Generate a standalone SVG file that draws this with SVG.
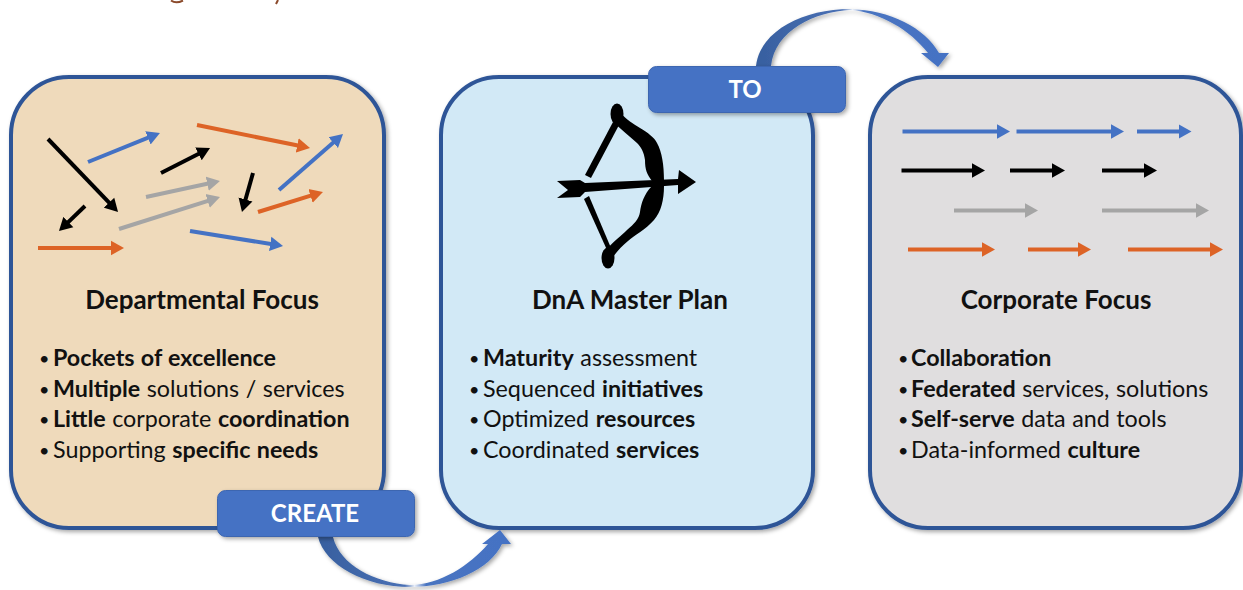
<svg xmlns="http://www.w3.org/2000/svg" width="1243" height="590" viewBox="0 0 1243 590">
<style>
text{font-family:Lato,"Liberation Sans",sans-serif;fill:#111}
.t{font-size:26px;font-weight:700;text-anchor:middle}
.b{font-size:23.300px;word-spacing:.6px}
.d{font-size:18px}
.b tspan.s{font-weight:700}
.l{font-size:24px;font-weight:700;fill:#fff;text-anchor:middle}
.card{stroke:#2F5597;stroke-width:4}
.a{stroke-width:4;fill:none}
.k{stroke:#000;marker-end:url(#hk)}.u{stroke:#4472C4;marker-end:url(#hu)}.o{stroke:#DD6326;marker-end:url(#ho)}.g{stroke:#A5A5A5;marker-end:url(#hg)}
</style>
<defs>
<filter id="sh" x="-10%" y="-10%" width="125%" height="125%"><feDropShadow dx="2" dy="2" stdDeviation="2" flood-color="#000" flood-opacity=".35"/></filter>
<marker id="hk" markerUnits="userSpaceOnUse" markerWidth="15" markerHeight="16" refX="7" refY="8" orient="auto"><path d="M0 .8L13 8L0 15.200Z" fill="#000"/></marker>
<marker id="hu" markerUnits="userSpaceOnUse" markerWidth="15" markerHeight="16" refX="7" refY="8" orient="auto"><path d="M0 .8L13 8L0 15.200Z" fill="#4472C4"/></marker>
<marker id="ho" markerUnits="userSpaceOnUse" markerWidth="15" markerHeight="16" refX="7" refY="8" orient="auto"><path d="M0 .8L13 8L0 15.200Z" fill="#DD6326"/></marker>
<marker id="hg" markerUnits="userSpaceOnUse" markerWidth="15" markerHeight="16" refX="7" refY="8" orient="auto"><path d="M0 .8L13 8L0 15.200Z" fill="#A5A5A5"/></marker>
<linearGradient id="gt" x1="0" x2="1" y1="0" y2="0"><stop offset="0" stop-color="#375F9F"/><stop offset=".45" stop-color="#4A70B4"/><stop offset=".5" stop-color="#E8EEF8"/><stop offset=".56" stop-color="#4A74C0"/><stop offset="1" stop-color="#4472C4"/></linearGradient>
</defs>

<path id="title-remnant" d="M171 .5Q176 4 183 .5M276 4L278 0" fill="none" stroke="#8B4A2B" stroke-width="2"/>

<g id="card-departmental">
<rect class="card" x="11" y="77" width="373" height="451" rx="58" fill="#EFDABB" filter="url(#sh)"/>
<g id="arrows-departmental">
<path class="a k" d="M48 139L113.900 207.700"/>
<path class="a u" d="M88 162L154.400 135.200"/>
<path class="a o" d="M197 125L304.100 146.800"/>
<path class="a k" d="M161 173L204.700 150.700"/>
<path class="a u" d="M279 190L338.500 138"/>
<path class="a g" d="M146 197L214.100 182.300"/>
<path class="a g" d="M119 229L214.300 198.800"/>
<path class="a k" d="M253 173L243.600 206.200"/>
<path class="a o" d="M258 212L317.200 193.700"/>
<path class="a k" d="M85 206L63.300 226.900"/>
<path class="a o" d="M38 248L118 248"/>
<path class="a u" d="M190 231L277.100 245"/>
</g>
<text class="t" x="202" y="309">Departmental Focus</text>
<text class="d" x="39" y="365">•</text><text class="b" x="53" y="366"><tspan class="s">Pockets of excellence</tspan></text>
<text class="d" x="39" y="396">•</text><text class="b" x="53" y="397"><tspan class="s">Multiple</tspan> solutions / services</text>
<text class="d" x="39" y="426">•</text><text class="b" x="53" y="427"><tspan class="s">Little</tspan> corporate <tspan class="s">coordination</tspan></text>
<text class="d" x="39" y="457">•</text><text class="b" x="53" y="458">Supporting <tspan class="s">specific needs</tspan></text>
</g>

<g id="card-master-plan">
<rect class="card" x="441" y="77" width="372" height="451" rx="58" fill="#D2E9F6" filter="url(#sh)"/>
<g id="bow-icon" fill="#000">
<ellipse cx="617" cy="114" rx="6.500" ry="10.500"/>
<ellipse cx="608" cy="258" rx="6.500" ry="10.500"/>
<path d="M620 112C626 120 634 124 640 128C648 133 654 137 657 143C662 152 664 165 664 181L652 181C647 174 645 170 645 160C644 152 641 147 637 143C630 137 622 130 613 122Z"/>
<path d="M652 186L664 186C664 200 661 212 654 220C645 230 635 235 628 241C622 246 616 252 611 260L606 250C614 241 622 235 627 230C634 224 639 219 640 212C641 204 644 194 652 186Z"/>
<path d="M613 122L619 125L591 178L585 175Z"/>
<path d="M589 196L584 199L607 250L611 248Z"/>
<path d="M557 181L580 180L585 183L678 179L679 170L696 182L678 194L678 185L585 192L580 197L557 198L568 190Z"/>
</g>
<text class="t" x="630" y="309">DnA Master Plan</text>
<text class="d" x="469" y="365">•</text><text class="b" x="483" y="366"><tspan class="s">Maturity</tspan> assessment</text>
<text class="d" x="469" y="396">•</text><text class="b" x="483" y="397">Sequenced <tspan class="s">initiatives</tspan></text>
<text class="d" x="469" y="426">•</text><text class="b" x="483" y="427">Optimized <tspan class="s">resources</tspan></text>
<text class="d" x="469" y="457">•</text><text class="b" x="483" y="458">Coordinated <tspan class="s">services</tspan></text>
</g>

<g id="card-corporate">
<rect class="card" x="870" y="77" width="371" height="451" rx="58" fill="#E0DEDF" filter="url(#sh)"/>
<g id="arrows-corporate">
<path class="a u" d="M902.500 131.500H1004"/><path class="a u" d="M1016.500 131.500H1118"/><path class="a u" d="M1137 131.500H1185.500"/>
<path class="a k" d="M901.500 170.500H979"/><path class="a k" d="M1010 170.500H1059"/><path class="a k" d="M1102 170.500H1151"/>
<path class="a g" d="M954 210.500H1032"/><path class="a g" d="M1102 210.500H1203"/>
<path class="a o" d="M908 249.500H989"/><path class="a o" d="M1028 249.500H1085"/><path class="a o" d="M1128 249.500H1217"/>
</g>
<text class="t" x="1056" y="309">Corporate Focus</text>
<text class="d" x="898" y="365">•</text><text class="b" x="911" y="366"><tspan class="s">Collaboration</tspan></text>
<text class="d" x="898" y="396">•</text><text class="b" x="911" y="397"><tspan class="s">Federated</tspan> services, solutions</text>
<text class="d" x="898" y="426">•</text><text class="b" x="911" y="427"><tspan class="s">Self-serve</tspan> data and tools</text>
<text class="d" x="898" y="457">•</text><text class="b" x="911" y="458">Data-informed <tspan class="s">culture</tspan></text>
</g>

<g id="connectors">
<path id="curve-to" d="M756 66C760 30 805 9 850 9C890 10 925 28 939 53H949L938 67L921 53H928C910 30 880 12 850 10C815 12 775 30 771 66Z" fill="url(#gt)" filter="url(#sh)"/>
<path id="curve-create" d="M318 537C325 565 365 587 410 587C450 587 490 570 502 544H511L500 530L482 544H488C470 565 440 585 410 585C375 583 340 565 333 537Z" fill="url(#gt)" filter="url(#sh)"/>
</g>

<g id="button-create">
<rect x="217.500" y="490.500" width="197" height="46" rx="8" fill="#4472C4" stroke="#3E66B0" filter="url(#sh)"/>
<text class="l" x="315" y="522">CREATE</text>
</g>
<g id="button-to">
<rect x="648.500" y="66.500" width="197" height="46" rx="8" fill="#4472C4" stroke="#3E66B0" filter="url(#sh)"/>
<text class="l" x="745" y="98">TO</text>
</g>
</svg>
